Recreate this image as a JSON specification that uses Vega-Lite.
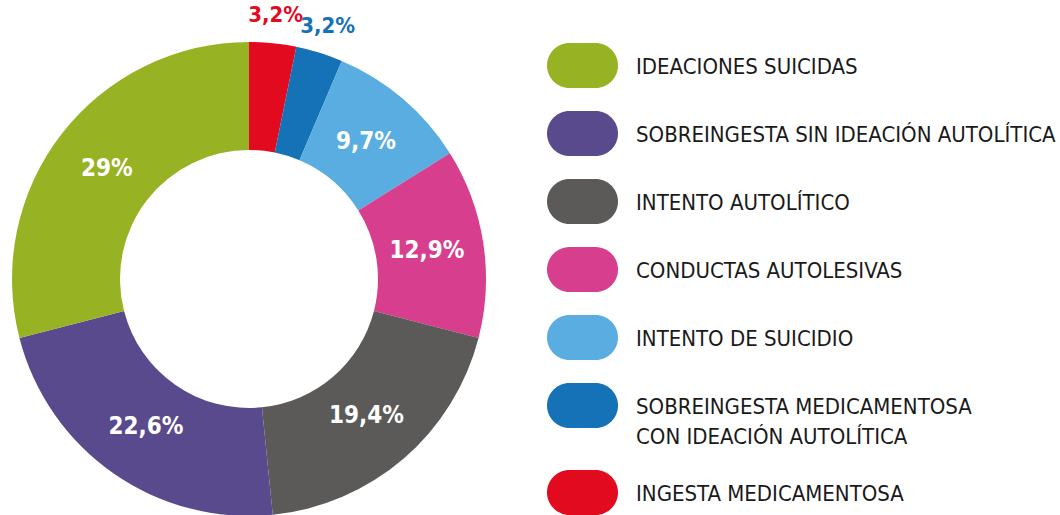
{
  "$schema": "https://vega.github.io/schema/vega-lite/v6.json",
  "width": 498,
  "height": 474,
  "autosize": {"type": "none"},
  "padding": {"left": 0, "top": 42, "right": 562, "bottom": 0},
  "background": "white",
  "config": {"view": {"stroke": null}},
  "data": {"values": [
    {"category": "INGESTA MEDICAMENTOSA", "value": 3.2, "label": "3,2%", "order": 1},
    {"category": "SOBREINGESTA MEDICAMENTOSA|CON IDEACIÓN AUTOLÍTICA", "value": 3.2, "label": "3,2%", "order": 2},
    {"category": "INTENTO DE SUICIDIO", "value": 9.7, "label": "9,7%", "order": 3},
    {"category": "CONDUCTAS AUTOLESIVAS", "value": 12.9, "label": "12,9%", "order": 4},
    {"category": "INTENTO AUTOLÍTICO", "value": 19.4, "label": "19,4%", "order": 5},
    {"category": "SOBREINGESTA SIN IDEACIÓN AUTOLÍTICA", "value": 22.6, "label": "22,6%", "order": 6},
    {"category": "IDEACIONES SUICIDAS", "value": 29, "label": "29%", "order": 7}
  ]},
  "encoding": {
    "theta": {"field": "value", "type": "quantitative", "stack": true},
    "order": {"field": "order", "type": "quantitative"}
  },
  "layer": [
    {
      "mark": {"type": "arc", "innerRadius": 129},
      "encoding": {
        "color": {
          "field": "category",
          "type": "nominal",
          "scale": {
            "domain": ["IDEACIONES SUICIDAS", "SOBREINGESTA SIN IDEACIÓN AUTOLÍTICA", "INTENTO AUTOLÍTICO", "CONDUCTAS AUTOLESIVAS", "INTENTO DE SUICIDIO", "SOBREINGESTA MEDICAMENTOSA|CON IDEACIÓN AUTOLÍTICA", "INGESTA MEDICAMENTOSA"],
            "range": ["#97b323", "#594a8d", "#5b5a58", "#d83e8e", "#5aade0", "#1572b6", "#e10a1f"]
          },
          "legend": {
            "title": null,
            "orient": "none",
            "legendX": 547,
            "legendY": -12,
            "padding": 0,
            "symbolType": "M-0.366,-0.634L0.366,-0.634A0.634,0.634,0,0,1,0.366,0.634L-0.366,0.634A0.634,0.634,0,0,1,-0.366,-0.634Z",
            "symbolSize": 5041,
            "symbolStrokeWidth": 0,
            "symbolOpacity": 1,
            "labelFont": "DejaVu Sans Condensed, sans-serif",
            "labelFontSize": 22,
            "labelColor": "#1a1a1a",
            "labelLimit": 0,
            "labelOffset": 18,
            "labelBaseline": "alphabetic",
            "rowPadding": 9,
            "labelExpr": "split(datum.label, '|')",
            "encode": {"labels": {"update": {"dy": {"value": 8}, "lineHeight": {"value": 30}}}}
          }
        }
      }
    },
    {
      "mark": {"type": "text", "radius": 180, "font": "DejaVu Sans Condensed, sans-serif", "fontWeight": "bold", "fontSize": 24, "fill": "white"},
      "encoding": {
        "text": {"condition": {"test": "datum.value < 5", "value": ""}, "field": "label", "type": "nominal"}
      }
    },
    {
      "mark": {"type": "text", "radius": 265, "font": "DejaVu Sans Condensed, sans-serif", "fontWeight": "bold", "fontSize": 22},
      "encoding": {
        "text": {"condition": {"test": "datum.value >= 5", "value": ""}, "field": "label", "type": "nominal"},
        "color": {"field": "category", "type": "nominal", "legend": null}
      }
    }
  ]
}
